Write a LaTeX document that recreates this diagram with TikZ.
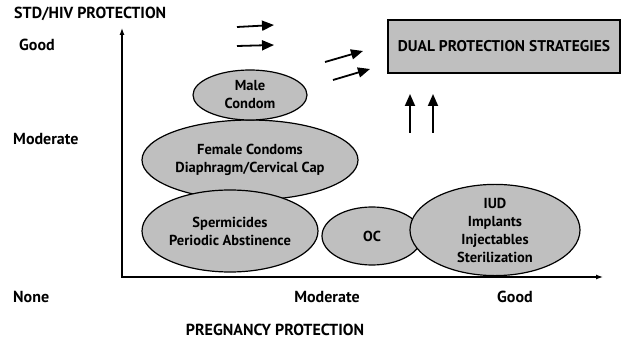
\documentclass[tikz,border=0pt]{standalone}
\usepackage{fontspec}
\setmainfont{PT Sans}
\usetikzlibrary{arrows.meta,positioning,shapes.geometric}

\begin{document}
\begin{tikzpicture}[x=1pt,y=-1pt,
  method/.style={ellipse,draw,very thick,fill=gray!50,align=center,inner sep=0pt,
    font=\bfseries\fontsize{14.5}{18}\selectfont},
  lab/.style={font=\bfseries\fontsize{16}{18}\selectfont,inner sep=0pt},
  big/.style={-{Triangle[length=12pt,width=10pt]},line width=1.8pt}]
\useasboundingbox[fill=white] (0,0) rectangle (626,347);
% axes
\coordinate (O) at (122,277);
\coordinate (ytop) at (122,28);
\coordinate (xend) at (603,277);
\draw[{Latex[length=7pt,width=5pt]}-{Latex[length=7pt,width=5pt]},line width=1.2pt] (ytop) |- (xend);
% axis labels
\node[lab,anchor=west] (ytitle) at (14,14) {STD/HIV PROTECTION};
\node[lab,anchor=west] (ygood) at (19,45) {Good};
\node[lab,anchor=west] (ymod) at (13,139) {Moderate};
\node[lab,anchor=west] (ynone) at (13,297) {None};
\node[lab] (xmod) at (327,297) {Moderate};
\node[lab] (xgood) at (515,297) {Good};
\node[lab] (xtitle) at (275,330) {PREGNANCY PROTECTION};
% methods
\node[method,minimum width=216,minimum height=80] (female) at (250,160)
  {Female Condoms\\Diaphragm/Cervical Cap};
\node[method,minimum width=176,minimum height=82] (sperm) at (230,231)
  {Spermicides\\Periodic Abstinence};
\node[method,minimum width=114,minimum height=50] (male) at (250,95)
  {Male\\Condom};
\node[method,minimum width=100,minimum height=58] (oc) at (372,236) {OC};
\node[method,minimum width=170,minimum height=84] (iud) at (495,230)
  {IUD\\Implants\\Injectables\\Sterilization};
\node[draw,very thick,fill=gray!50,minimum width=232,minimum height=53,
  font=\bfseries\fontsize{15.5}{16}\selectfont] (dual) at (504,46.5)
  {DUAL PROTECTION STRATEGIES};
% arrows towards dual protection
\coordinate (a1s) at (237,27); \coordinate (a1e) at (274,25);
\coordinate (a2s) at (237,46); \coordinate (a2e) at (274,45);
\coordinate (a3s) at (325,62); \coordinate (a3e) at (363,51);
\coordinate (a4s) at (333,80); \coordinate (a4e) at (370,69);
\coordinate (a5s) at (410,133); \coordinate (a5e) at (410,94);
\coordinate (a6s) at (433,133); \coordinate (a6e) at (433,94);
\path[big]
  (a1s) edge (a1e) (a2s) edge (a2e)
  (a3s) edge (a3e) (a4s) edge (a4e)
  (a5s) edge (a5e) (a6s) edge (a6e)
  ;
\end{tikzpicture}
\end{document}
